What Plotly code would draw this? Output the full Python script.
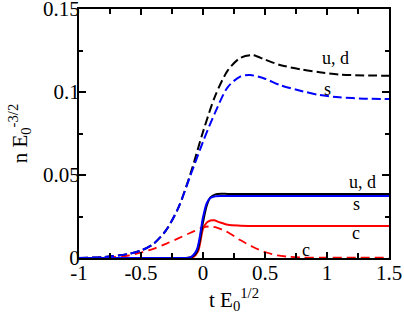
import plotly.graph_objects as go

# ---- data ----
t_ud_dash = [-1.0, -0.8, -0.6, -0.5, -0.4, -0.3, -0.2, -0.1, 0.0, 0.1, 0.2, 0.3, 0.4, 0.5, 0.62, 0.8, 0.94, 1.1, 1.3, 1.5]
n_ud_dash = [0.0, 0.0006, 0.0025, 0.0045, 0.0085, 0.0165, 0.030, 0.051, 0.076, 0.098, 0.113, 0.1205, 0.1222, 0.1195, 0.1163, 0.1135, 0.1119, 0.1105, 0.110, 0.1098]

t_s_dash = [-1.0, -0.8, -0.6, -0.5, -0.4, -0.3, -0.2, -0.1, 0.0, 0.1, 0.2, 0.3, 0.38, 0.5, 0.62, 0.8, 0.94, 1.1, 1.3, 1.5]
n_s_dash = [0.0, 0.0006, 0.0025, 0.0045, 0.0085, 0.0165, 0.030, 0.050, 0.070, 0.088, 0.103, 0.1093, 0.1102, 0.108, 0.1042, 0.1005, 0.0982, 0.0968, 0.0960, 0.0958]

t_c_dash = [-1.0, -0.8, -0.6, -0.5, -0.4, -0.3, -0.2, -0.1, 0.0, 0.05, 0.1, 0.15, 0.2, 0.3, 0.4, 0.5, 0.6, 0.7, 0.8, 1.0, 1.5]
n_c_dash = [0.0, 0.0003, 0.0015, 0.0033, 0.0055, 0.0085, 0.0118, 0.0152, 0.0185, 0.0190, 0.0186, 0.0172, 0.0155, 0.0108, 0.0068, 0.0036, 0.0016, 0.0007, 0.0003, 0.0002, 0.0002]

t_ud_solid = [-1.0, -0.3, -0.15, -0.1, -0.05, 0.0, 0.03, 0.06, 0.1, 0.15, 0.2, 0.4, 1.5]
n_ud_solid = [0.0, 0.0, 0.0, 0.0003, 0.0035, 0.0215, 0.0315, 0.0365, 0.0383, 0.0387, 0.0386, 0.0386, 0.0386]

t_s_solid = [-1.0, -0.3, -0.15, -0.1, -0.05, 0.0, 0.03, 0.06, 0.1, 0.15, 0.2, 0.4, 1.5]
n_s_solid = [0.0, 0.0, 0.0, 0.0005, 0.005, 0.0245, 0.0330, 0.0362, 0.0372, 0.0374, 0.0374, 0.0374, 0.0374]

t_c_solid = [-1.0, -0.3, -0.15, -0.08, -0.04, 0.0, 0.03, 0.06, 0.09, 0.13, 0.2, 0.3, 0.5, 1.5]
n_c_solid = [0.0, 0.0, 0.0, 0.0005, 0.004, 0.0175, 0.0213, 0.0226, 0.0227, 0.0216, 0.0200, 0.0195, 0.0193, 0.0193]

x_ticks = [-1, -0.5, 0, 0.5, 1, 1.5]
x_tick_text = ["-1", "-0.5", "0", "0.5", "1", "1.5"]
y_ticks = [0, 0.05, 0.1, 0.15]
y_tick_text = ["0", "0.05", "0.1", "0.15"]

label_text = ["u, d", "s", "u, d", "s", "c", "c"]
label_t = [1.065, 1.0, 1.29, 1.234, 1.234, 0.83]
label_n = [0.1205, 0.1018, 0.0458, 0.0325, 0.015, 0.0048]

FONT = "Liberation Serif"
DASH = "9px,4px"

fig = go.Figure()

def add(t, n, color, dash, width=2):
    fig.add_trace(go.Scatter(x=t, y=n, mode="lines",
                             line=dict(color=color, width=width, dash=dash, shape="spline", smoothing=0.8),
                             showlegend=False, hoverinfo="skip"))

add(t_c_dash, n_c_dash, "#ff0000", "9px,5px", 1.8)
add(t_ud_dash, n_ud_dash, "#000000", DASH)
add(t_s_dash, n_s_dash, "#0000ff", DASH)
add(t_c_solid, n_c_solid, "#ff0000", "solid")
add(t_ud_solid, n_ud_solid, "#000000", "solid")
add(t_s_solid, n_s_solid, "#0000ff", "solid")

for txt, tx, ny in zip(label_text, label_t, label_n):
    fig.add_annotation(x=tx, y=ny, xref="x", yref="y", text=txt, showarrow=False,
                       font=dict(family=FONT, size=18, color="black"))

axis_common = dict(showgrid=False, zeroline=False, showline=True, linecolor="black", linewidth=2,
                   mirror="allticks", ticks="inside", tickcolor="black", tickwidth=1.5,
                   ticklabeloverflow="allow",
                   tickfont=dict(family=FONT, size=21, color="black"))

fig.update_xaxes(range=[-1, 1.5], tickvals=x_ticks, ticktext=x_tick_text, ticklen=6,
                 ticklabelstandoff=-5,
                 minor=dict(dtick=0.25, tick0=0, ticks="inside", ticklen=5, tickcolor="black", tickwidth=1.5),
                 title=dict(text="t E<sub>0</sub><sup>1/2</sup>", font=dict(family=FONT, size=21, color="black"), standoff=8),
                 **axis_common)
fig.update_yaxes(range=[0, 0.15], tickvals=y_ticks, ticktext=y_tick_text, ticklen=7,
                 ticklabelstandoff=-7,
                 minor=dict(dtick=0.025, tick0=0, ticks="inside", ticklen=4, tickcolor="black", tickwidth=1.5),
                 title=dict(text="n E<sub>0</sub><sup>-3/2</sup>", font=dict(family=FONT, size=21, color="black"), standoff=10),
                 **axis_common)

fig.update_layout(width=404, height=316, margin=dict(l=79, r=15, t=9, b=58, autoexpand=False),
                  paper_bgcolor="white", plot_bgcolor="white", showlegend=False)

fig.write_html("out.html", config={"displayModeBar": False},
               post_script="document.body.style.margin='0px';")
